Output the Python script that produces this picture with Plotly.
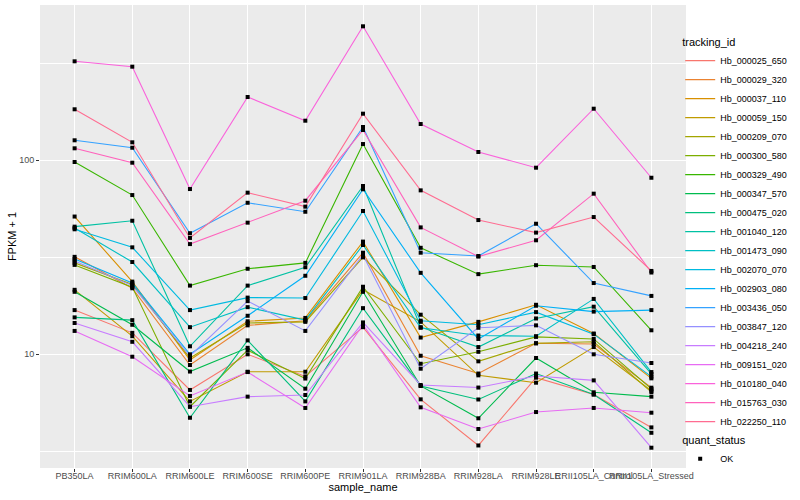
import plotly.graph_objects as go

samples = ["PB350LA", "RRIM600LA", "RRIM600LE", "RRIM600SE", "RRIM600PE", "RRIM901LA",
           "RRIM928BA", "RRIM928LA", "RRIM928LE", "RRII105LA_Control", "RRII105LA_Stressed"]

tracking_ids = ["Hb_000025_650", "Hb_000029_320", "Hb_000037_110", "Hb_000059_150", "Hb_000209_070",
                "Hb_000300_580", "Hb_000329_490", "Hb_000347_570", "Hb_000475_020", "Hb_001040_120",
                "Hb_001473_090", "Hb_002070_070", "Hb_002903_080", "Hb_003436_050", "Hb_003847_120",
                "Hb_004218_240", "Hb_009151_020", "Hb_010180_040", "Hb_015763_030", "Hb_022250_110"]

# FPKM + 1 per sample
hb_000025_650 = [16.9, 12.9, 6.55, 10.0, 7.69, 13.8, 5.86, 3.39, 7.58, 6.21, 4.20]
hb_000029_320 = [31.8, 21.9, 8.81, 14.1, 14.9, 33.4, 9.83, 7.96, 11.4, 11.3, 6.73]
hb_000037_110 = [51.3, 23.7, 9.35, 14.8, 15.4, 38.1, 12.2, 14.7, 18.0, 12.8, 7.52]
hb_000059_150 = [21.5, 12.4, 5.72, 8.13, 8.13, 21.5, 14.7, 7.79, 7.14, 10.9, 6.49]
hb_000209_070 = [29.6, 22.9, 9.57, 14.5, 14.7, 31.6, 16.0, 9.20, 11.4, 11.6, 6.39]
hb_000300_580 = [28.9, 22.2, 5.37, 10.5, 7.50, 22.3, 8.94, 10.3, 12.3, 12.0, 6.63]
hb_000329_490 = [98.0, 66.2, 22.6, 27.6, 29.6, 121.3, 35.4, 25.9, 28.8, 28.2, 13.3]
hb_000347_570 = [21.0, 14.2, 8.15, 10.8, 6.65, 21.0, 6.87, 4.68, 9.57, 6.37, 6.05]
hb_000475_020 = [15.5, 15.0, 4.71, 11.8, 5.72, 17.3, 6.87, 5.85, 7.96, 6.21, 3.94]
hb_001040_120 = [45.5, 48.8, 11.0, 22.6, 28.1, 73.7, 13.8, 10.9, 15.3, 17.6, 7.92]
hb_001473_090 = [44.8, 29.9, 13.8, 17.5, 15.0, 36.6, 13.7, 12.5, 12.4, 19.3, 8.10]
hb_002070_070 = [44.1, 35.6, 16.9, 19.6, 19.5, 54.8, 14.9, 14.2, 16.5, 12.7, 7.67]
hb_002903_080 = [31.0, 23.3, 10.0, 15.8, 25.4, 70.9, 26.3, 12.0, 17.8, 16.6, 16.9]
hb_003436_050 = [126.8, 116.1, 42.1, 60.4, 54.3, 148.5, 33.4, 32.1, 47.1, 23.3, 20.0]
hb_003847_120 = [30.3, 22.6, 9.80, 18.8, 13.2, 32.5, 8.43, 13.7, 14.1, 10.0, 9.02]
hb_004218_240 = [14.5, 11.6, 5.37, 6.05, 6.17, 14.6, 6.95, 6.74, 7.73, 7.34, 3.30]
hb_009151_020 = [13.2, 9.72, 6.10, 8.10, 5.29, 14.2, 5.33, 4.12, 5.04, 5.29, 5.00]
hb_010180_040 = [323.8, 303.8, 71.1, 212.0, 160.0, 490.6, 153.8, 110.4, 91.6, 184.5, 81.3]
hb_015763_030 = [115.3, 97.2, 37.0, 47.7, 61.9, 143.3, 45.1, 31.9, 38.7, 67.3, 26.4]
hb_022250_110 = [183.2, 123.8, 39.8, 68.1, 57.7, 173.9, 70.0, 49.2, 42.4, 51.0, 26.9]

series_values = [hb_000025_650, hb_000029_320, hb_000037_110, hb_000059_150, hb_000209_070,
                 hb_000300_580, hb_000329_490, hb_000347_570, hb_000475_020, hb_001040_120,
                 hb_001473_090, hb_002070_070, hb_002903_080, hb_003436_050, hb_003847_120,
                 hb_004218_240, hb_009151_020, hb_010180_040, hb_015763_030, hb_022250_110]

quant_status = "OK"

# ggplot2 default hue palette for 20 levels
palette = ["#F8766D", "#EA8331", "#D89000", "#C09B00", "#A3A500", "#7CAE00", "#39B600", "#00BB4E",
           "#00BF7D", "#00C1A3", "#00BFC4", "#00BAE0", "#00B0F6", "#35A2FF", "#9590FF", "#C77CFF",
           "#E76BF3", "#FA62DB", "#FF62BC", "#FF6C91"]

FONT = "Liberation Sans, Arial, sans-serif"

fig = go.Figure()
for tid, vals, col in zip(tracking_ids, series_values, palette):
    fig.add_trace(go.Scatter(
        x=samples, y=vals, mode="lines", name=tid,
        line=dict(color=col, width=1.1), legend="legend",
    ))

all_x, all_y = [], []
for vals in series_values:
    all_x.extend(samples)
    all_y.extend(vals)
fig.add_trace(go.Scatter(
    x=all_x, y=all_y, mode="markers", name=quant_status, legend="legend2",
    marker=dict(symbol="square", size=4, color="black"),
))

fig.update_layout(
    width=800, height=500,
    margin=dict(l=40, r=114, t=5, b=32, autoexpand=False),
    paper_bgcolor="white", plot_bgcolor="#EBEBEB",
    font=dict(family=FONT, size=9, color="#4D4D4D"),
    legend=dict(
        x=0.991, y=0.942, xanchor="left", yanchor="top",
        title=dict(text="tracking_id", font=dict(size=11, color="black")),
        font=dict(size=9, color="black"), itemwidth=30, bgcolor="rgba(0,0,0,0)",
    ),
    legend2=dict(
        x=0.991, y=0.082, xanchor="left", yanchor="top",
        title=dict(text="quant_status", font=dict(size=11, color="black")),
        font=dict(size=9, color="black"), itemwidth=30, bgcolor="rgba(0,0,0,0)",
    ),
)
fig.update_xaxes(
    type="category", categoryorder="array", categoryarray=samples,
    range=[-0.6, len(samples) - 0.4], tickangle=0,
    showgrid=True, gridcolor="white", gridwidth=1.1, zeroline=False, showline=False,
    ticks="outside", ticklen=3, tickwidth=1, tickcolor="#333333",
    tickfont=dict(size=9, color="#4D4D4D"), ticklabelstandoff=-4,
    title=dict(text="sample_name", font=dict(size=11, color="black"), standoff=1),
)
fig.update_yaxes(
    type="log", range=[0.414, 2.8005],
    tickvals=[10, 100], ticktext=["10", "100"],
    showgrid=True, gridcolor="white", gridwidth=1.1, zeroline=False, showline=False,
    ticks="outside", ticklen=3, tickwidth=1, tickcolor="#333333",
    tickfont=dict(size=9, color="#4D4D4D"),
    minor=dict(tickvals=[3.1623, 31.623, 316.23], showgrid=True, gridcolor="white",
               gridwidth=0.5, ticks=""),
    title=dict(text="FPKM + 1", font=dict(size=11, color="black"), standoff=0),
)

fig.write_html("out.html", config={"displayModeBar": False},
               post_script="document.body.style.margin='0';")
